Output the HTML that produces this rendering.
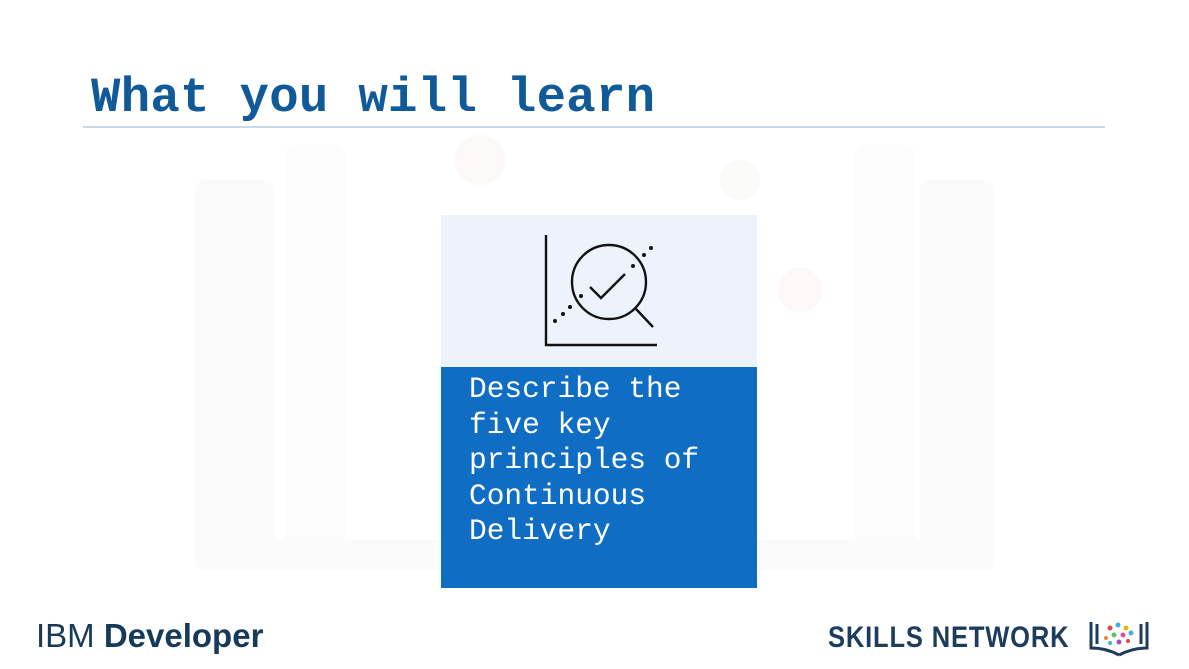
<!DOCTYPE html>
<html><head><meta charset="utf-8">
<style>
html,body{margin:0;padding:0;background:#fff;}
body{width:1189px;height:669px;position:relative;overflow:hidden;font-family:"Liberation Sans",sans-serif;}
.abs{position:absolute;}
#title{left:91px;top:70px;font-family:"Liberation Mono",monospace;font-weight:bold;font-size:49px;color:#105a9a;line-height:56px;letter-spacing:0.3px;white-space:nowrap;}
#rule{left:83px;top:126px;width:1022px;height:2px;background:#c9d9ea;}
#card-top{left:441px;top:215px;width:316px;height:152px;background:#edf3fb;}
#card-bottom{left:441px;top:367px;width:316px;height:221px;background:#0f6ec4;}
#card-text{left:469px;top:372px;font-family:"Liberation Mono",monospace;font-size:29.5px;line-height:35.5px;color:#fff;white-space:pre;}
#ibm{left:36px;top:617px;font-size:33px;color:#163a5a;white-space:nowrap;}
#ibm b{font-weight:bold;}
#skills{left:828px;top:621px;font-family:"Liberation Sans Narrow","Liberation Sans",sans-serif;font-weight:bold;font-size:30px;color:#1e3c5c;letter-spacing:1px;white-space:nowrap;transform:scaleX(0.85);transform-origin:left;}
</style></head>
<body>
<svg class="abs" style="left:0;top:0" width="1189" height="669">
  <rect x="195" y="180" width="80" height="380" rx="10" fill="#fbfbfb"/>
  <rect x="285" y="145" width="60" height="420" rx="10" fill="#fcfcfd"/>
  <rect x="855" y="145" width="60" height="420" rx="10" fill="#fcfcfd"/>
  <rect x="920" y="180" width="75" height="380" rx="10" fill="#fbfbfb"/>
  <rect x="195" y="540" width="800" height="30" rx="10" fill="#fbfbfb"/>
  <circle cx="480" cy="160" r="25" fill="#fdf8f8"/>
  <circle cx="740" cy="180" r="20" fill="#fafaf8"/>
  <circle cx="800" cy="290" r="22" fill="#fdf7f7"/>
</svg>
<div id="title" class="abs">What you will learn</div>
<div id="rule" class="abs"></div>
<div id="card-top" class="abs"></div>
<svg class="abs" style="left:441px;top:215px" width="316" height="152">
  <g transform="translate(-441,-215)" stroke="#111" stroke-width="2.4" fill="none">
    <polyline points="546,235 546,345 657,345"/>
    <circle cx="609" cy="282" r="37"/>
    <line x1="636" y1="309" x2="653" y2="327"/>
    <polyline points="590,287 601,298 625,274"/>
  </g>
  <g transform="translate(-441,-215)" fill="#111">
    <circle cx="555" cy="321" r="2"/><circle cx="563" cy="314" r="2"/><circle cx="570" cy="307" r="2"/>
    <circle cx="581" cy="296" r="2"/><circle cx="633" cy="266" r="2"/><circle cx="644" cy="255" r="2"/><circle cx="651" cy="248" r="2"/>
  </g>
</svg>
<div id="card-bottom" class="abs"></div>
<div id="card-text" class="abs">Describe the
five key
principles of
Continuous
Delivery</div>
<div id="ibm" class="abs">IBM <b>Developer</b></div>
<div id="skills" class="abs">SKILLS NETWORK</div>
<svg class="abs" style="left:1088px;top:618px" width="64" height="40">
  <g stroke="#1e3c5c" stroke-width="3" fill="none">
    <path d="M3,4 V30 Q18,30 31,37"/><path d="M59,4 V30 Q44,30 31,37"/>
    <path d="M9,6 V26"/><path d="M53,6 V26"/>
  </g>
  <circle cx="22" cy="10" r="2.5" fill="#e04848"/><circle cx="30" cy="7" r="2.5" fill="#3bb3e0"/>
  <circle cx="38" cy="10" r="2.5" fill="#f0b020"/><circle cx="26" cy="17" r="2.5" fill="#60c060"/>
  <circle cx="35" cy="17" r="2.5" fill="#e050a0"/><circle cx="43" cy="15" r="2.5" fill="#3bb3e0"/>
  <circle cx="18" cy="20" r="2" fill="#f08030"/><circle cx="31" cy="24" r="2.5" fill="#a050d0"/>
  <circle cx="40" cy="23" r="2" fill="#e04848"/><circle cx="22" cy="25" r="2" fill="#3bb3e0"/>
</svg>
</body></html>
